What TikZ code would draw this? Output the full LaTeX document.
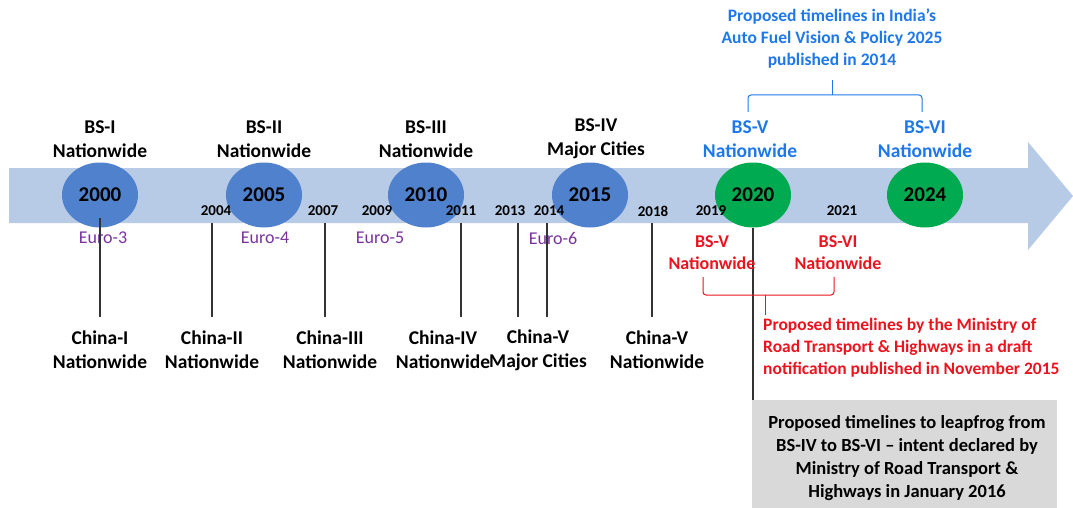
\documentclass[tikz,border=0pt]{standalone}
\usepackage{fontspec}
\setmainfont{Carlito}
\usetikzlibrary{calc}

\definecolor{bandblue}{RGB}{183,202,230}
\definecolor{ballblue}{RGB}{79,129,204}
\definecolor{ballgreen}{RGB}{0,170,80}
\definecolor{plainblue}{RGB}{30,120,235}
\definecolor{europurple}{RGB}{120,50,160}
\definecolor{notered}{RGB}{235,20,30}
\definecolor{boxgray}{RGB}{217,217,217}

\tikzset{
  yearball/.style={ellipse,minimum width=76pt,minimum height=65pt,inner sep=0pt,
    font=\fontsize{21}{25}\selectfont\bfseries},
  smallyear/.style={inner sep=0pt,font=\fontsize{15}{18}\selectfont\bfseries},
  eurolbl/.style={inner sep=0pt,text=europurple,font=\fontsize{18}{22}\selectfont},
  stagelbl/.style={inner sep=0pt,align=center,font=\fontsize{19.5}{24}\selectfont\bfseries},
  notelbl/.style={inner sep=0pt,font=\fontsize{17.5}{22}\selectfont\bfseries},
  tickline/.style={black!80,line width=1.2pt}
}
\usetikzlibrary{shapes.geometric}

\begin{document}
\begin{tikzpicture}[x=1pt,y=-1pt]
\useasboundingbox (0,0) rectangle (1073,508);

% the arrow
\fill[bandblue] (9,168) -- (1028,168) -- (1028,142) -- (1073,196)
  -- (1028,250) -- (1028,223) -- (9,223) -- cycle;

% grey box
\node[fill=boxgray,minimum width=305pt,minimum height=108pt,inner sep=0pt,anchor=north west]
  (leap) at (752,400) {};
\node[notelbl,align=center,font=\fontsize{18.5}{23}\selectfont\bfseries] (leaptxt) at (907,458)
  {Proposed timelines to leapfrog from\\BS-IV to BS-VI -- intent declared by\\Ministry of Road Transport \&\\Highways in January 2016};

% vertical ticks behind the balls
\coordinate (t2000) at (100,218);
\coordinate (t2004) at (212,223);
\coordinate (t2007) at (325,223);
\coordinate (t2011) at (461,223);
\coordinate (t2013) at (518,223);
\coordinate (t2014) at (547,223);
\coordinate (t2018) at (652,223);
\coordinate (tend) at (0,317);

% years
\node[yearball,fill=ballblue] (y2000) at (100,195) {2000};
\node[yearball,fill=ballblue] (y2005) at (264,195) {2005};
\node[yearball,fill=ballblue] (y2010) at (426,195) {2010};
\node[yearball,fill=ballblue] (y2015) at (590,195) {2015};
\node[yearball,fill=ballgreen] (y2020) at (753,195) {2020};
\node[yearball,fill=ballgreen] (y2024) at (925,195) {2024};

\node[smallyear] (s2004) at (216,211) {2004};
\node[smallyear] (s2007) at (323,211) {2007};
\node[smallyear] (s2009) at (377,211) {2009};
\node[smallyear] (s2011) at (461,211) {2011};
\node[smallyear] (s2013) at (510,211) {2013};
\node[smallyear] (s2014) at (549,211) {2014};
\node[smallyear] (s2018) at (653,211) {2018};
\node[smallyear] (s2019) at (711,211) {2019};
\node[smallyear] (s2021) at (842,211) {2021};

% euro stages
\node[eurolbl] (euro3) at (103,238) {Euro-3};
\node[eurolbl] (euro4) at (265,238) {Euro-4};
\node[eurolbl] (euro5) at (380,238) {Euro-5};
\node[eurolbl] (euro6) at (553,238) {Euro-6};

% BS stages above
\node[stagelbl] (bs1) at (100,139) {BS-I\\Nationwide};
\node[stagelbl] (bs2) at (264,139) {BS-II\\Nationwide};
\node[stagelbl] (bs3) at (426,139) {BS-III\\Nationwide};
\node[stagelbl] (bs4) at (596,139) {BS-IV\\Major Cities};
\node[stagelbl,text=plainblue] (bs5) at (750,139) {BS-V\\Nationwide};
\node[stagelbl,text=plainblue] (bs6) at (925,139) {BS-VI\\Nationwide};

% China stages
\node[stagelbl] (cn1) at (100,350) {China-I\\Nationwide};
\node[stagelbl] (cn2) at (212,350) {China-II\\Nationwide};
\node[stagelbl] (cn3) at (330,350) {China-III\\Nationwide};
\node[stagelbl] (cn4) at (443,350) {China-IV\\Nationwide};
\node[stagelbl] (cn5) at (538,350) {China-V\\Major Cities};
\node[stagelbl] (cn6) at (657,350) {China-V\\Nationwide};

\draw[tickline] (t2000) -- (t2000 |- tend);
\draw[tickline] (t2004) -- (t2004 |- tend);
\draw[tickline] (t2007) -- (t2007 |- tend);
\draw[tickline] (t2011) -- (t2011 |- tend);
\draw[tickline] (t2013) -- (t2013 |- tend);
\draw[tickline] (t2014) -- (t2014 |- tend);
\draw[tickline] (t2018) -- (t2018 |- tend);
\draw[tickline] (y2020.south) -- (y2020.south |- leap.north);

% red proposal
\node[stagelbl,text=notered,font=\fontsize{18}{22}\selectfont\bfseries] (rbs5) at (712,253) {BS-V\\Nationwide};
\node[stagelbl,text=notered,font=\fontsize{18}{22}\selectfont\bfseries] (rbs6) at (838,253) {BS-VI\\Nationwide};
\coordinate (rl) at (703,277);
\coordinate (rr) at (834,277);
\coordinate (rm) at (765,295);
\draw[notered,line width=1pt,rounded corners=3pt]
  (rl) -- (rl |- 0,295) -- (rr |- 0,295) -- (rr);
\draw[notered,line width=1pt] (rm) -- ++(0,20);
\node[notelbl,text=notered,align=left,anchor=north west] (rnote) at (763,318)
  {Proposed timelines by the Ministry of\\Road Transport \& Highways in a draft\\notification published in November 2015};

% blue proposal
\coordinate (bl) at (748,112);
\coordinate (br) at (922,112);
\coordinate (bm) at (832,95);
\draw[plainblue,line width=1pt,rounded corners=3pt]
  (bl) -- (bl |- 0,95) -- (br |- 0,95) -- (br);
\draw[plainblue,line width=1pt] (bm) -- ++(0,-15);
\node[notelbl,text=plainblue,align=center] (bnote) at (832,39)
  {Proposed timelines in India's\\Auto Fuel Vision \& Policy 2025\\published in 2014};
\end{tikzpicture}
\end{document}
